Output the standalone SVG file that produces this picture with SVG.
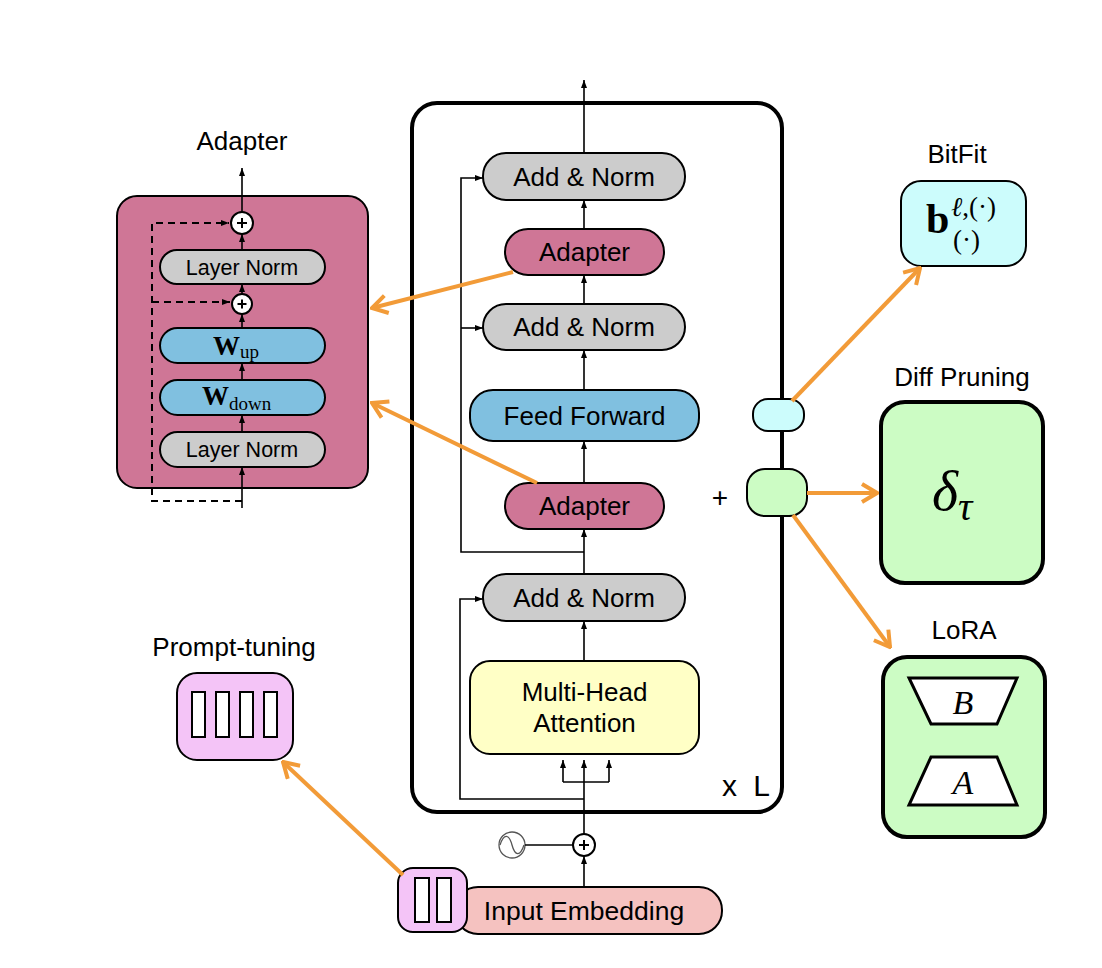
<svg xmlns="http://www.w3.org/2000/svg" width="1102" height="968" viewBox="0 0 1102 968">
<style>
.s{font-family:"Liberation Sans",Arial,sans-serif;fill:#000}
.m{font-family:"Liberation Serif","DejaVu Serif",serif;fill:#000}
.t{font-size:26px;text-anchor:middle}
.n{stroke:#000;stroke-width:2}
.ln{stroke:#000;stroke-width:1.6;fill:none}
.dash{stroke:#000;stroke-width:2;fill:none;stroke-dasharray:7 5}
.or{stroke:#F29B38;stroke-width:4;fill:none}
.gray{fill:#CCCCCC}
.pink{fill:#CF7696}
.blue{fill:#80C0E0}
.green{fill:#CCFCC4}
.cyan{fill:#CCFCFC}
.yel{fill:#FFFFC6}
.mag{fill:#F4C4F7}
</style>
<defs>
<marker id="ah" viewBox="0 0 8 6" refX="8" refY="3" markerWidth="8" markerHeight="6" markerUnits="userSpaceOnUse" orient="auto">
<path d="M0,0 L8,3 L0,6 z" fill="#000"/>
</marker>
<marker id="oh" viewBox="-18 -11 20 22" refX="0" refY="0" markerWidth="20" markerHeight="22" markerUnits="userSpaceOnUse" orient="auto">
<path d="M-15,-9 L0,0 L-15,9" fill="none" stroke="#F29B38" stroke-width="4" stroke-linejoin="miter"/>
</marker>
</defs>
<rect width="1102" height="968" fill="#fff"/>

<!-- Transformer block -->
<g id="transformer-block">
<rect x="412" y="103" width="370" height="709" rx="25" fill="none" stroke="#000" stroke-width="4"/>
<text class="s" x="722" y="796" font-size="30" textLength="48" lengthAdjust="spacing">x L</text>
</g>

<!-- Adapter detail -->
<g id="adapter-detail">
<text class="s t" x="242" y="150">Adapter</text>
<rect class="pink n" x="117" y="196" width="251" height="292" rx="20"/>
<g id="adapter-plus-top">
<circle cx="242" cy="223" r="11" fill="#fff" stroke="#000" stroke-width="2"/>
<path d="M237,223 H247 M242,218 V228" stroke="#000" stroke-width="2"/>
</g>
<g id="adapter-ln-top">
<rect class="gray n" x="160" y="250" width="165" height="34" rx="17"/>
<text class="s" x="242" y="275" font-size="21.5" text-anchor="middle">Layer Norm</text>
</g>
<g id="adapter-plus-mid">
<circle cx="242" cy="304" r="10" fill="#fff" stroke="#000" stroke-width="2"/>
<path d="M237.5,304 H246.5 M242,299.5 V308.5" stroke="#000" stroke-width="2"/>
</g>
<g id="adapter-wup">
<rect class="blue n" x="160" y="328" width="165" height="35" rx="17.5"/>
<text class="m" x="213" y="355" font-size="27" font-weight="bold">W<tspan font-weight="normal" font-size="19" dy="3">up</tspan></text>
</g>
<g id="adapter-wdown">
<rect class="blue n" x="160" y="380" width="165" height="35" rx="17.5"/>
<text class="m" x="202" y="405" font-size="27" font-weight="bold">W<tspan font-weight="normal" font-size="19" dy="5">down</tspan></text>
</g>
<g id="adapter-ln-bottom">
<rect class="gray n" x="160" y="432" width="165" height="35" rx="17.5"/>
<text class="s" x="242" y="457" font-size="21.5" text-anchor="middle">Layer Norm</text>
</g>
</g>

<!-- Transformer nodes -->
<g id="add-norm-top">
<rect class="gray n" x="483" y="153" width="202" height="47" rx="23"/>
<text class="s t" x="584" y="186">Add &amp; Norm</text>
</g>
<g id="adapter-top">
<rect class="pink n" x="505" y="229" width="159" height="46" rx="23"/>
<text class="s t" x="584.5" y="261">Adapter</text>
</g>
<g id="add-norm-mid">
<rect class="gray n" x="483" y="304" width="202" height="46" rx="23"/>
<text class="s t" x="584" y="336">Add &amp; Norm</text>
</g>
<g id="feed-forward">
<rect class="blue n" x="470" y="390" width="229" height="51" rx="23"/>
<text class="s t" x="584.5" y="425">Feed Forward</text>
</g>
<g id="adapter-bottom">
<rect class="pink n" x="505" y="483" width="159" height="46" rx="23"/>
<text class="s t" x="584.5" y="515">Adapter</text>
</g>
<g id="add-norm-bottom">
<rect class="gray n" x="483" y="574" width="202" height="47" rx="23"/>
<text class="s t" x="584" y="607">Add &amp; Norm</text>
</g>
<g id="multi-head-attention">
<rect class="yel n" x="470" y="661" width="229" height="93" rx="20"/>
<text class="s t" x="584.5" y="701">Multi-Head</text>
<text class="s t" x="584.5" y="732">Attention</text>
</g>
<g id="pos-plus">
<circle cx="584" cy="845" r="11" fill="#fff" stroke="#000" stroke-width="2"/>
<path d="M579,845 H589 M584,840 V850" stroke="#000" stroke-width="2"/>
</g>
<g id="positional-encoding">
<circle cx="512" cy="845" r="13" fill="#fff" stroke="#555" stroke-width="1.3"/>
<path d="M500,845 C504,833 509,834 512,845 C515,856 520,857 524,845" fill="none" stroke="#555" stroke-width="1.3"/>
</g>
<g id="input-embedding">
<rect x="455" y="887" width="267" height="47" rx="23" fill="#F5C2C0" stroke="#000" stroke-width="2"/>
<text class="s" x="584" y="920" font-size="26.5" text-anchor="middle">Input Embedding</text>
</g>
<g id="prompt-small">
<rect class="mag n" x="398" y="868" width="69" height="64" rx="15"/>
<rect x="415" y="878" width="14" height="44" fill="#fff" stroke="#000" stroke-width="2"/>
<rect x="437" y="878" width="14" height="44" fill="#fff" stroke="#000" stroke-width="2"/>
</g>

<!-- Prompt tuning -->
<g id="prompt-tuning">
<text class="s t" x="234" y="656">Prompt-tuning</text>
<rect class="mag n" x="177" y="673" width="116" height="87" rx="20"/>
<rect x="192" y="692" width="13" height="45" fill="#fff" stroke="#000" stroke-width="2"/>
<rect x="216" y="692" width="13" height="45" fill="#fff" stroke="#000" stroke-width="2"/>
<rect x="240" y="692" width="13" height="45" fill="#fff" stroke="#000" stroke-width="2"/>
<rect x="264" y="692" width="13" height="45" fill="#fff" stroke="#000" stroke-width="2"/>
</g>

<!-- small pills on block edge -->
<g id="bitfit-pill">
<rect class="cyan n" x="753" y="399" width="51" height="32" rx="15"/>
</g>
<g id="diff-pill">
<rect class="green n" x="747" y="469" width="60" height="47" rx="18"/>
</g>
<text class="s" x="720" y="507" font-size="28" text-anchor="middle">+</text>

<!-- BitFit -->
<g id="bitfit">
<text class="s t" x="957" y="163">BitFit</text>
<rect class="cyan n" x="901" y="181" width="125" height="85" rx="20"/>
<text class="m" x="926" y="233" font-size="42" font-weight="bold">b</text>
<text class="m" x="951" y="216" font-size="27" font-style="italic">ℓ<tspan font-style="normal">,(·)</tspan></text>
<text class="m" x="953" y="249" font-size="27">(·)</text>
</g>

<!-- Diff Pruning -->
<g id="diff-pruning">
<text class="s t" x="962" y="386">Diff Pruning</text>
<rect class="green" x="881" y="402" width="162" height="181" rx="24" stroke="#000" stroke-width="4"/>
<text class="m" x="932" y="510" font-size="56" font-style="italic">δ<tspan font-size="40" dy="10">τ</tspan></text>
</g>

<!-- LoRA -->
<g id="lora">
<text class="s t" x="964" y="639">LoRA</text>
<rect class="green" x="883" y="657" width="162" height="180" rx="24" stroke="#000" stroke-width="4"/>
<polygon points="909,678 1017,678 997,724 931,724" fill="#fff" stroke="#000" stroke-width="3"/>
<text class="m" x="963" y="714" font-size="34" font-style="italic" text-anchor="middle">B</text>
<polygon points="931,757 997,757 1017,805 909,805" fill="#fff" stroke="#000" stroke-width="3"/>
<text class="m" x="963" y="794" font-size="34" font-style="italic" text-anchor="middle">A</text>
</g>

<g id="connectors">
<!-- main flow -->
<line class="ln" x1="584" y1="834" x2="584" y2="760" marker-end="url(#ah)"/>
<polyline class="ln" points="563,782 609,782"/>
<line class="ln" x1="563" y1="782" x2="563" y2="760" marker-end="url(#ah)"/>
<line class="ln" x1="609" y1="782" x2="609" y2="760" marker-end="url(#ah)"/>
<polyline class="ln" points="584,799 460,799 460,599 483,599" marker-end="url(#ah)"/>
<line class="ln" x1="584" y1="661" x2="584" y2="621" marker-end="url(#ah)"/>
<line class="ln" x1="584" y1="574" x2="584" y2="529" marker-end="url(#ah)"/>
<polyline class="ln" points="584,552 461,552 461,178 483,178" marker-end="url(#ah)"/>
<line class="ln" x1="461" y1="328" x2="483" y2="328" marker-end="url(#ah)"/>
<line class="ln" x1="584" y1="483" x2="584" y2="441" marker-end="url(#ah)"/>
<line class="ln" x1="584" y1="390" x2="584" y2="350" marker-end="url(#ah)"/>
<line class="ln" x1="584" y1="304" x2="584" y2="275" marker-end="url(#ah)"/>
<line class="ln" x1="584" y1="229" x2="584" y2="200" marker-end="url(#ah)"/>
<line class="ln" x1="584" y1="153" x2="584" y2="80" marker-end="url(#ah)"/>
<line class="ln" x1="584" y1="887" x2="584" y2="856" marker-end="url(#ah)"/>
<line class="ln" x1="525" y1="845" x2="573" y2="845"/>
<!-- adapter internals -->
<line class="ln" x1="242" y1="508" x2="242" y2="467" marker-end="url(#ah)"/>
<line class="ln" x1="242" y1="432" x2="242" y2="415" marker-end="url(#ah)"/>
<line class="ln" x1="242" y1="380" x2="242" y2="363" marker-end="url(#ah)"/>
<line class="ln" x1="242" y1="328" x2="242" y2="314" marker-end="url(#ah)"/>
<line class="ln" x1="242" y1="294" x2="242" y2="284" marker-end="url(#ah)"/>
<line class="ln" x1="242" y1="250" x2="242" y2="234" marker-end="url(#ah)"/>
<line class="ln" x1="242" y1="212" x2="242" y2="168" marker-end="url(#ah)"/>
<polyline class="dash" points="242,501 152,501 152,223 229,223" marker-end="url(#ah)"/>
<line class="dash" x1="152" y1="302" x2="230" y2="302" marker-end="url(#ah)"/>
<!-- orange method connectors -->
<line class="or" x1="513" y1="272" x2="372" y2="308" marker-end="url(#oh)"/>
<line class="or" x1="537" y1="483" x2="372" y2="403" marker-end="url(#oh)"/>
<line class="or" x1="792" y1="401" x2="920" y2="268" marker-end="url(#oh)"/>
<line class="or" x1="807" y1="493" x2="877" y2="493" marker-end="url(#oh)"/>
<line class="or" x1="793" y1="515" x2="890" y2="647" marker-end="url(#oh)"/>
<line class="or" x1="403" y1="875" x2="283" y2="762" marker-end="url(#oh)"/>
</g>
</svg>
